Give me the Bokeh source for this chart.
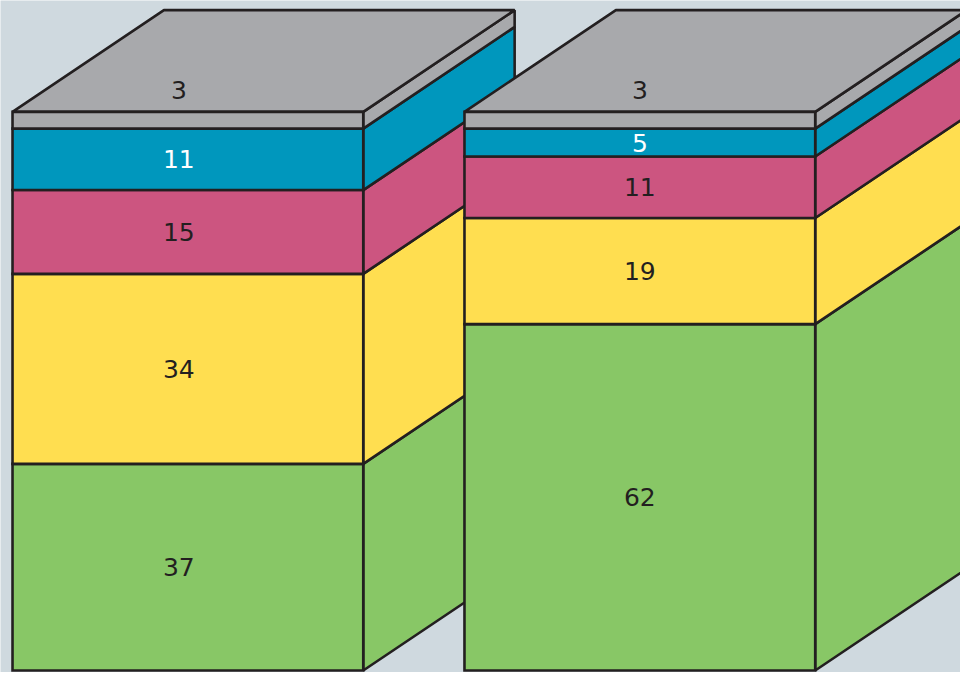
from bokeh.plotting import figure
from bokeh.models import ColumnDataSource, Range1d
from bokeh.core.properties import value
from bokeh.embed import file_html
from bokeh.resources import INLINE

# ---- data (bottom segment first) ----
bars = ["Bar 1", "Bar 2"]
segments = ["Green", "Yellow", "Pink", "Blue", "Gray"]
bar1_values = [37, 34, 15, 11, 3]
bar2_values = [62, 19, 11, 5, 3]
bar_values = [bar1_values, bar2_values]

# ---- style ----
seg_colors = ["#88c766", "#ffde50", "#cc5580", "#0097bd", "#a8a9ac"]
label_colors = ["#231f20", "#231f20", "#231f20", "#ffffff", "#231f20"]
BG = "#cfd9df"
EDGE = "#231f20"
LW = 2.6
BAR_W = 0.776      # front-face width in category units
DX = 0.335         # depth offset (x, category units)
DY = 18.2          # depth offset (y, value units)
TOP_LABEL_LIFT = 4.0
LABEL_SHIFT = [-0.02, 0.0]   # small horizontal nudge of labels per bar

p = figure(width=960, height=672,
           x_range=Range1d(-0.4146, 1.7095), y_range=Range1d(-0.35, 119.93),
           output_backend="svg", toolbar_location=None,
           x_axis_location=None, y_axis_location=None, min_border=0)
p.grid.visible = False
p.outline_line_color = None
p.background_fill_color = BG
p.border_fill_color = BG

for i, vals in enumerate(bar_values):
    left = i - BAR_W / 2
    right = i + BAR_W / 2
    bottoms, tops = [], []
    acc = 0
    for v in vals:
        bottoms.append(acc)
        acc += v
        tops.append(acc)
    total = acc

    # side faces
    side = ColumnDataSource(dict(
        xs=[[right, right + DX, right + DX, right] for _ in vals],
        ys=[[b, b + DY, t + DY, t] for b, t in zip(bottoms, tops)],
        color=seg_colors[:len(vals)],
    ))
    p.patches("xs", "ys", source=side, fill_color="color", line_color=EDGE,
              line_width=LW, line_join="bevel")

    # top face
    p.patch([left, left + DX, right + DX, right], [total, total + DY, total + DY, total],
            fill_color=seg_colors[len(vals) - 1], line_color=EDGE, line_width=LW,
            line_join="bevel")

    # front faces
    front = ColumnDataSource(dict(
        left=[left] * len(vals), right=[right] * len(vals),
        bottom=bottoms, top=tops, color=seg_colors[:len(vals)],
    ))
    p.quad(left="left", right="right", bottom="bottom", top="top", source=front,
           fill_color="color", line_color=EDGE, line_width=LW, line_join="miter")

    # labels
    ly = [(b + t) / 2 for b, t in zip(bottoms, tops)]
    ly[-1] = total + TOP_LABEL_LIFT
    lab = ColumnDataSource(dict(
        x=[i + LABEL_SHIFT[i]] * len(vals), y=ly, text=[str(v) for v in vals],
        color=label_colors[:len(vals)],
    ))
    p.text("x", "y", text="text", source=lab, text_color="color",
           text_font=value("DejaVu Sans"), text_font_size="25px",
           text_align="center", text_baseline="middle")

open("out.html", "w").write(file_html(p, INLINE))
